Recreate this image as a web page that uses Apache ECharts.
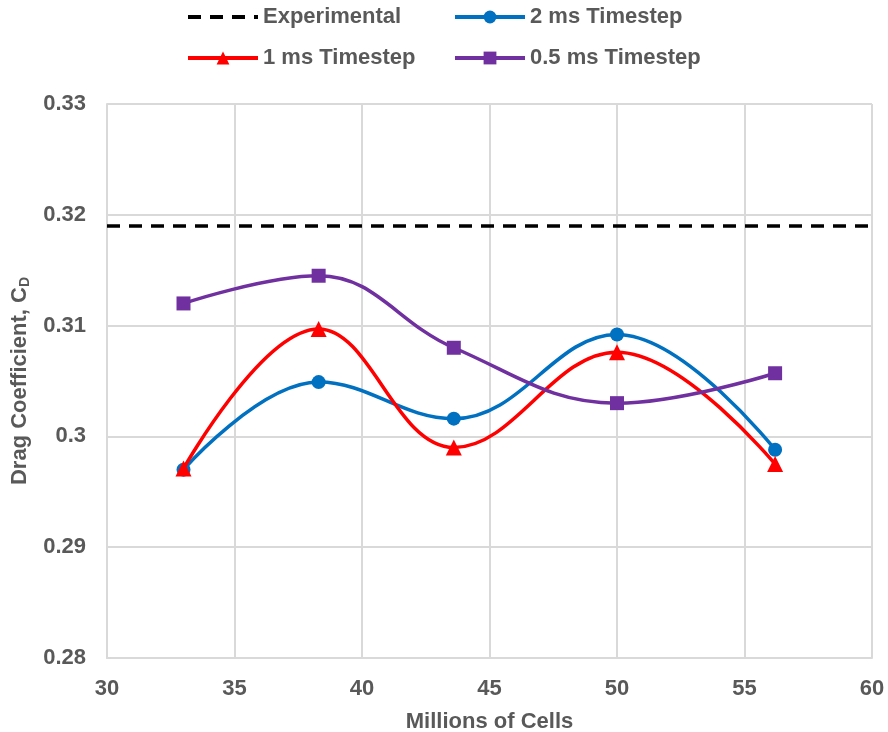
<!DOCTYPE html>
<html><head><meta charset="utf-8">
<script src="https://cdn.jsdelivr.net/npm/echarts@6/dist/echarts.min.js"></script>
<style>html,body{margin:0;padding:0;background:#fff}#c{width:888px;height:732px}</style>
</head><body><div id="c"></div>
<script>
const cells = [33.0, 38.3, 43.6, 50.0, 56.2];
const ts2ms = [0.2970, 0.3049, 0.3016, 0.3092, 0.2988];
const ts1ms = [0.2971, 0.3097, 0.2990, 0.3076, 0.2975];
const ts05ms = [0.3120, 0.3145, 0.3080, 0.3030, 0.3057];
const experimentalX = [30, 60];
const experimentalY = [0.319, 0.319];
const seriesNames = ['Experimental', '2 ms Timestep', '1 ms Timestep', '0.5 ms Timestep'];

const pairs = (xs, ys) => xs.map((x, i) => [x, ys[i]]);
const FONT = '"Liberation Sans", Arial, sans-serif';
const TXT = '#595959';
const chart = echarts.init(document.getElementById('c'), null, {renderer: 'canvas'});

const legendBase = {
  itemWidth: 70, itemHeight: 16, itemGap: 4,
  lineStyle: {width: 4},
  textStyle: {fontFamily: FONT, fontWeight: 'bold', fontSize: 22, color: TXT},
  padding: 0
};

chart.setOption({
  animation: false,
  legend: [
    Object.assign({}, legendBase, {data: [{name: seriesNames[0], itemStyle: {opacity: 0}}], left: 186, top: 6}),
    Object.assign({}, legendBase, {data: [seriesNames[1]], left: 453, top: 6}),
    Object.assign({}, legendBase, {data: [seriesNames[2]], left: 186, top: 47}),
    Object.assign({}, legendBase, {data: [seriesNames[3]], left: 453, top: 47})
  ],
  grid: {left: 107, right: 16, top: 104, bottom: 74, containLabel: false, outerBoundsMode: 'none'},
  xAxis: {
    type: 'value', min: 30, max: 60, interval: 5,
    name: 'Millions of Cells', nameLocation: 'middle', nameGap: 53,
    nameTextStyle: {fontFamily: FONT, fontWeight: 'bold', fontSize: 22, color: TXT},
    axisLine: {show: true, lineStyle: {color: '#d9d9d9', width: 2}},
    axisTick: {show: false},
    axisLabel: {fontFamily: FONT, fontWeight: 'bold', fontSize: 22, color: TXT, margin: 20},
    splitLine: {show: true, lineStyle: {color: '#d9d9d9', width: 2}}
  },
  yAxis: {
    type: 'value', min: 0.28, max: 0.33, interval: 0.01,
    name: 'Drag Coefficient, C{sub|D}', nameLocation: 'middle', nameGap: 69,
    nameTextStyle: {fontFamily: FONT, fontWeight: 'bold', fontSize: 22, color: TXT,
      rich: {sub: {fontFamily: FONT, fontWeight: 'bold', fontSize: 14, color: TXT, verticalAlign: 'bottom', padding: [10, 0, 0, 0]}}},
    axisLine: {show: true, lineStyle: {color: '#d9d9d9', width: 2}},
    axisTick: {show: false},
    axisLabel: {fontFamily: FONT, fontWeight: 'bold', fontSize: 22, color: TXT, margin: 21},
    splitLine: {show: true, lineStyle: {color: '#d9d9d9', width: 2}}
  },
  series: [
    {name: seriesNames[0], type: 'line', data: pairs(experimentalX, experimentalY), showSymbol: false, symbol: 'none',
     lineStyle: {color: '#000', width: 3.5, type: [13, 9]}, itemStyle: {color: '#000'}, z: 2},
    {name: seriesNames[1], type: 'line', data: pairs(cells, ts2ms), smooth: 0.4, symbol: 'circle', symbolSize: 14,
     lineStyle: {color: '#0070C0', width: 3.5}, itemStyle: {color: '#0070C0'}, z: 3},
    {name: seriesNames[2], type: 'line', data: pairs(cells, ts1ms), smooth: 0.4, symbol: 'triangle', symbolSize: 16,
     lineStyle: {color: '#FF0000', width: 3.5}, itemStyle: {color: '#FF0000'}, z: 4},
    {name: seriesNames[3], type: 'line', data: pairs(cells, ts05ms), smooth: 0.4, symbol: 'rect', symbolSize: 14,
     lineStyle: {color: '#7030A0', width: 3.5}, itemStyle: {color: '#7030A0'}, z: 5}
  ]
});
</script></body></html>
